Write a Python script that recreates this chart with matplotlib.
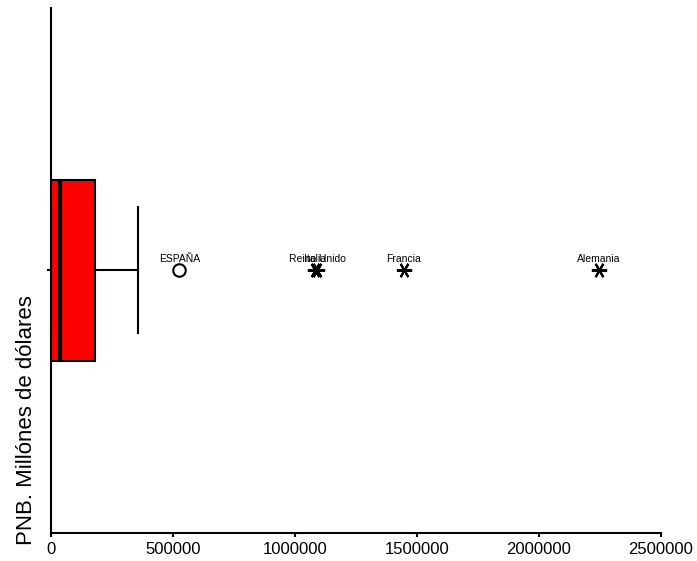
import numpy as np
import matplotlib
matplotlib.use('Agg')
import matplotlib.pyplot as plt

# resumen del diagrama de caja (PNB, millones de dolares)
q1 = 2000
mediana = 38000
q3 = 182000
bigote_inf = 0
bigote_sup = 356000

# atipicos (circulo) y extremos (asterisco)
atipicos_nombres = ["ESPAÑA"]
atipicos_valores = [526000]
extremos_nombres = ["Reino Unido", "Italia", "Francia", "Alemania"]
extremos_valores = [1092000, 1083000, 1446000, 2247000]

xticks = [0, 500000, 1000000, 1500000, 2000000, 2500000]


def main():
    fuente = ['Liberation Sans', 'DejaVu Sans']
    fig = plt.figure(figsize=(6.97, 5.61), dpi=100)
    ax = fig.add_axes([0.073, 0.05, 0.875, 0.936])

    stats = [dict(med=mediana, q1=q1, q3=q3, whislo=bigote_inf, whishi=bigote_sup, fliers=[])]
    ax.bxp(stats, positions=[1], widths=0.69, vert=False, patch_artist=True,
           showcaps=True, capwidths=0.48,
           boxprops=dict(facecolor='red', edgecolor='black', linewidth=1.5),
           medianprops=dict(color='black', linewidth=3),
           whiskerprops=dict(color='black', linewidth=1.5),
           capprops=dict(color='black', linewidth=1.5))

    ax.plot(atipicos_valores, [1] * len(atipicos_valores), linestyle='None', marker='o',
            markerfacecolor='none', markeredgecolor='black', markersize=9, markeredgewidth=1.5)
    ax.plot(extremos_valores, [1] * len(extremos_valores), linestyle='None', marker=(6, 2, 90),
            color='black', markersize=11, markeredgewidth=1.5)

    for n, v in zip(atipicos_nombres + extremos_nombres, atipicos_valores + extremos_valores):
        ax.text(v, 1.025, n, ha='center', va='bottom', fontsize=7.5, family=fuente)

    ax.set_xlim(0, 2500000)
    ax.set_ylim(0, 2)
    ax.set_xticks(xticks)
    ax.set_xticklabels([str(t) for t in xticks], fontsize=12, family=fuente)
    ax.set_yticks([1])
    ax.set_yticklabels([""])
    ax.set_ylabel("PNB. Millónes de dólares", fontsize=16, family=fuente)
    ax.yaxis.set_label_coords(-0.022, 0.215)
    ax.tick_params(length=3, width=1.5)
    ax.spines['top'].set_visible(False)
    ax.spines['right'].set_visible(False)
    ax.spines['left'].set_linewidth(1.5)
    ax.spines['bottom'].set_linewidth(1.5)

    fig.savefig("out.png", dpi=100)


if __name__ == "__main__":
    main()
